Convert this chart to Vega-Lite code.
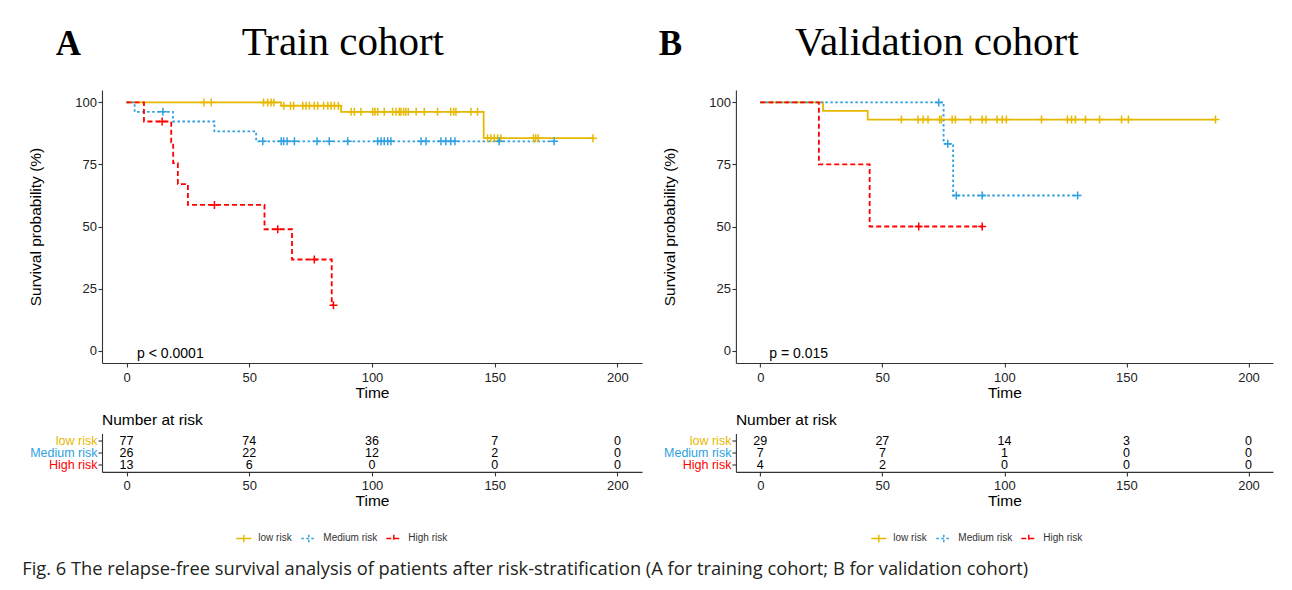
{
  "$schema": "https://vega.github.io/schema/vega-lite/v6.json",
  "background": "white",
  "autosize": {"type": "pad"},
  "padding": {"left": 22, "top": 21, "right": 5, "bottom": 5},
  "title": {
    "text": "Fig. 6 The relapse-free survival analysis of patients after risk-stratification (A for training cohort; B for validation cohort)",
    "orient": "bottom", "anchor": "start", "frame": "group", "dx": -79.7, "offset": 15,
    "font": "Open Sans", "fontSize": 18.3, "fontWeight": "normal", "color": "#231f20", "baseline": "top"
  },
  "datasets": {
    "curves": [
      {"c":"Train","g":"low risk","t":0,"S":100},{"c":"Train","g":"low risk","t":63,"S":98.7},{"c":"Train","g":"low risk","t":87.4,"S":96.2},{"c":"Train","g":"low risk","t":145.5,"S":85.6},{"c":"Train","g":"low risk","t":190,"S":85.6},
      {"c":"Train","g":"Medium risk","t":0,"S":100},{"c":"Train","g":"Medium risk","t":3.3,"S":96.2},{"c":"Train","g":"Medium risk","t":18.9,"S":92.3},{"c":"Train","g":"Medium risk","t":35.8,"S":88.3},{"c":"Train","g":"Medium risk","t":52.8,"S":84.3},{"c":"Train","g":"Medium risk","t":174.2,"S":84.3},
      {"c":"Train","g":"High risk","t":0,"S":100},{"c":"Train","g":"High risk","t":7.1,"S":92.3},{"c":"Train","g":"High risk","t":18.2,"S":83.9},{"c":"Train","g":"High risk","t":19,"S":75.5},{"c":"Train","g":"High risk","t":20.9,"S":67.1},{"c":"Train","g":"High risk","t":25,"S":58.7},{"c":"Train","g":"High risk","t":56.2,"S":48.9},{"c":"Train","g":"High risk","t":67.4,"S":36.7},{"c":"Train","g":"High risk","t":83.6,"S":18.3},{"c":"Train","g":"High risk","t":84.3,"S":18.3},
      {"c":"Valid","g":"low risk","t":0,"S":100},{"c":"Valid","g":"low risk","t":25.7,"S":96.6},{"c":"Valid","g":"low risk","t":44,"S":93.1},{"c":"Valid","g":"low risk","t":186.5,"S":93.1},
      {"c":"Valid","g":"Medium risk","t":0,"S":100},{"c":"Valid","g":"Medium risk","t":75.1,"S":83.3},{"c":"Valid","g":"Medium risk","t":79,"S":62.5},{"c":"Valid","g":"Medium risk","t":130,"S":62.5},
      {"c":"Valid","g":"High risk","t":0,"S":100},{"c":"Valid","g":"High risk","t":24,"S":75},{"c":"Valid","g":"High risk","t":44.8,"S":50},{"c":"Valid","g":"High risk","t":90.9,"S":50}
    ],
    "censors": [
      {"c":"Train","g":"low risk","t":31.5,"S":100},{"c":"Train","g":"low risk","t":34.5,"S":100},{"c":"Train","g":"low risk","t":55.8,"S":100},{"c":"Train","g":"low risk","t":57.5,"S":100},{"c":"Train","g":"low risk","t":58.9,"S":100},{"c":"Train","g":"low risk","t":60,"S":100},
      {"c":"Train","g":"low risk","t":64.1,"S":98.7},{"c":"Train","g":"low risk","t":66.8,"S":98.7},{"c":"Train","g":"low risk","t":68.1,"S":98.7},{"c":"Train","g":"low risk","t":71.8,"S":98.7},{"c":"Train","g":"low risk","t":73.1,"S":98.7},{"c":"Train","g":"low risk","t":74.5,"S":98.7},{"c":"Train","g":"low risk","t":76.5,"S":98.7},{"c":"Train","g":"low risk","t":77.9,"S":98.7},{"c":"Train","g":"low risk","t":80.3,"S":98.7},{"c":"Train","g":"low risk","t":82,"S":98.7},{"c":"Train","g":"low risk","t":83.3,"S":98.7},{"c":"Train","g":"low risk","t":84.7,"S":98.7},{"c":"Train","g":"low risk","t":86.3,"S":98.7},
      {"c":"Train","g":"low risk","t":91.5,"S":96.2},{"c":"Train","g":"low risk","t":92.8,"S":96.2},{"c":"Train","g":"low risk","t":95.5,"S":96.2},{"c":"Train","g":"low risk","t":100.3,"S":96.2},{"c":"Train","g":"low risk","t":101.2,"S":96.2},{"c":"Train","g":"low risk","t":102.3,"S":96.2},{"c":"Train","g":"low risk","t":105,"S":96.2},{"c":"Train","g":"low risk","t":108.4,"S":96.2},{"c":"Train","g":"low risk","t":109.8,"S":96.2},{"c":"Train","g":"low risk","t":111.1,"S":96.2},{"c":"Train","g":"low risk","t":111.8,"S":96.2},{"c":"Train","g":"low risk","t":112.9,"S":96.2},{"c":"Train","g":"low risk","t":113.8,"S":96.2},{"c":"Train","g":"low risk","t":114.8,"S":96.2},{"c":"Train","g":"low risk","t":118,"S":96.2},{"c":"Train","g":"low risk","t":121.3,"S":96.2},{"c":"Train","g":"low risk","t":126.7,"S":96.2},{"c":"Train","g":"low risk","t":132.1,"S":96.2},{"c":"Train","g":"low risk","t":133.3,"S":96.2},{"c":"Train","g":"low risk","t":134.2,"S":96.2},{"c":"Train","g":"low risk","t":140.3,"S":96.2},{"c":"Train","g":"low risk","t":143,"S":96.2},
      {"c":"Train","g":"low risk","t":147.1,"S":85.6},{"c":"Train","g":"low risk","t":148.4,"S":85.6},{"c":"Train","g":"low risk","t":149.8,"S":85.6},{"c":"Train","g":"low risk","t":151.2,"S":85.6},{"c":"Train","g":"low risk","t":152.5,"S":85.6},{"c":"Train","g":"low risk","t":165.8,"S":85.6},{"c":"Train","g":"low risk","t":166.7,"S":85.6},{"c":"Train","g":"low risk","t":167.7,"S":85.6},{"c":"Train","g":"low risk","t":190,"S":85.6},
      {"c":"Train","g":"Medium risk","t":14.8,"S":96.2},
      {"c":"Train","g":"Medium risk","t":55.5,"S":84.3},{"c":"Train","g":"Medium risk","t":63,"S":84.3},{"c":"Train","g":"Medium risk","t":64,"S":84.3},{"c":"Train","g":"Medium risk","t":65.4,"S":84.3},{"c":"Train","g":"Medium risk","t":68.4,"S":84.3},{"c":"Train","g":"Medium risk","t":77.6,"S":84.3},{"c":"Train","g":"Medium risk","t":82.6,"S":84.3},{"c":"Train","g":"Medium risk","t":90.1,"S":84.3},{"c":"Train","g":"Medium risk","t":102.3,"S":84.3},{"c":"Train","g":"Medium risk","t":103.7,"S":84.3},{"c":"Train","g":"Medium risk","t":105,"S":84.3},{"c":"Train","g":"Medium risk","t":106.4,"S":84.3},{"c":"Train","g":"Medium risk","t":107.7,"S":84.3},{"c":"Train","g":"Medium risk","t":120,"S":84.3},{"c":"Train","g":"Medium risk","t":122,"S":84.3},{"c":"Train","g":"Medium risk","t":128.1,"S":84.3},{"c":"Train","g":"Medium risk","t":130.1,"S":84.3},{"c":"Train","g":"Medium risk","t":132.1,"S":84.3},{"c":"Train","g":"Medium risk","t":133.8,"S":84.3},{"c":"Train","g":"Medium risk","t":151.8,"S":84.3},{"c":"Train","g":"Medium risk","t":174.2,"S":84.3},
      {"c":"Train","g":"High risk","t":14.5,"S":92.3},{"c":"Train","g":"High risk","t":35.8,"S":58.7},{"c":"Train","g":"High risk","t":61.6,"S":48.9},{"c":"Train","g":"High risk","t":76.5,"S":36.7},{"c":"Train","g":"High risk","t":84.3,"S":18.3},
      {"c":"Valid","g":"low risk","t":57.8,"S":93.1},{"c":"Valid","g":"low risk","t":64.6,"S":93.1},{"c":"Valid","g":"low risk","t":66.7,"S":93.1},{"c":"Valid","g":"low risk","t":68.7,"S":93.1},{"c":"Valid","g":"low risk","t":73.5,"S":93.1},{"c":"Valid","g":"low risk","t":74.2,"S":93.1},{"c":"Valid","g":"low risk","t":78.6,"S":93.1},{"c":"Valid","g":"low risk","t":79.9,"S":93.1},{"c":"Valid","g":"low risk","t":86.1,"S":93.1},{"c":"Valid","g":"low risk","t":90.9,"S":93.1},{"c":"Valid","g":"low risk","t":92.5,"S":93.1},{"c":"Valid","g":"low risk","t":97,"S":93.1},{"c":"Valid","g":"low risk","t":99.1,"S":93.1},{"c":"Valid","g":"low risk","t":100.8,"S":93.1},{"c":"Valid","g":"low risk","t":115.2,"S":93.1},{"c":"Valid","g":"low risk","t":125.8,"S":93.1},{"c":"Valid","g":"low risk","t":127.5,"S":93.1},{"c":"Valid","g":"low risk","t":129.1,"S":93.1},{"c":"Valid","g":"low risk","t":133.2,"S":93.1},{"c":"Valid","g":"low risk","t":139,"S":93.1},{"c":"Valid","g":"low risk","t":148,"S":93.1},{"c":"Valid","g":"low risk","t":150.8,"S":93.1},{"c":"Valid","g":"low risk","t":186.5,"S":93.1},
      {"c":"Valid","g":"Medium risk","t":73.1,"S":100},{"c":"Valid","g":"Medium risk","t":76.8,"S":83.3},{"c":"Valid","g":"Medium risk","t":80.3,"S":62.5},{"c":"Valid","g":"Medium risk","t":90.9,"S":62.5},{"c":"Valid","g":"Medium risk","t":130,"S":62.5},
      {"c":"Valid","g":"High risk","t":64.9,"S":50},{"c":"Valid","g":"High risk","t":90.9,"S":50}
    ],
    "pvals": [
      {"c":"Train","t":4.3,"S":-2.8,"label":"p < 0.0001"},
      {"c":"Valid","t":3.7,"S":-2.8,"label":"p = 0.015"}
    ],
    "risk": [
      {"c":"Train","g":"low risk","t":0,"n":77},{"c":"Train","g":"low risk","t":50,"n":74},{"c":"Train","g":"low risk","t":100,"n":36},{"c":"Train","g":"low risk","t":150,"n":7},{"c":"Train","g":"low risk","t":200,"n":0},
      {"c":"Train","g":"Medium risk","t":0,"n":26},{"c":"Train","g":"Medium risk","t":50,"n":22},{"c":"Train","g":"Medium risk","t":100,"n":12},{"c":"Train","g":"Medium risk","t":150,"n":2},{"c":"Train","g":"Medium risk","t":200,"n":0},
      {"c":"Train","g":"High risk","t":0,"n":13},{"c":"Train","g":"High risk","t":50,"n":6},{"c":"Train","g":"High risk","t":100,"n":0},{"c":"Train","g":"High risk","t":150,"n":0},{"c":"Train","g":"High risk","t":200,"n":0},
      {"c":"Valid","g":"low risk","t":0,"n":29},{"c":"Valid","g":"low risk","t":50,"n":27},{"c":"Valid","g":"low risk","t":100,"n":14},{"c":"Valid","g":"low risk","t":150,"n":3},{"c":"Valid","g":"low risk","t":200,"n":0},
      {"c":"Valid","g":"Medium risk","t":0,"n":7},{"c":"Valid","g":"Medium risk","t":50,"n":7},{"c":"Valid","g":"Medium risk","t":100,"n":1},{"c":"Valid","g":"Medium risk","t":150,"n":0},{"c":"Valid","g":"Medium risk","t":200,"n":0},
      {"c":"Valid","g":"High risk","t":0,"n":4},{"c":"Valid","g":"High risk","t":50,"n":2},{"c":"Valid","g":"High risk","t":100,"n":0},{"c":"Valid","g":"High risk","t":150,"n":0},{"c":"Valid","g":"High risk","t":200,"n":0}
    ]
  },
  "columns": 2,
  "spacing": {"row": 70.5, "column": 93.9},
  "bounds": "flush",
  "concat": [
    {
      "width": 540, "height": 273,
      "layer": [
        {
          "data": {"name": "curves"},
          "transform": [{"filter": "datum.c == 'Train'"}],
          "mark": {"type": "line", "interpolate": "step-after", "strokeWidth": 1.8},
          "encoding": {
            "x": {"field": "t", "type": "quantitative", "scale": {"domain": [-10, 210], "nice": false, "zero": false}, "axis": {"values": [0, 50, 100, 150, 200], "title": "Time", "titlePadding": 1, "labelFontSize": 13, "labelColor": "#222222", "labelPadding": 4}},
            "y": {"field": "S", "type": "quantitative", "scale": {"domain": [-5, 105], "nice": false, "zero": false}, "axis": {"values": [0, 25, 50, 75, 100], "title": "Survival probability (%)", "titlePadding": 31, "labelFontSize": 13, "labelColor": "#222222", "labelPadding": 1.5}},
            "color": {"field": "g", "type": "nominal", "scale": {"domain": ["low risk", "Medium risk", "High risk"], "range": ["#E7B800", "#2E9FDF", "#FF0000"]},
              "legend": {"orient": "none", "legendX": 133.3, "legendY": 439.5, "direction": "horizontal", "columns": 3, "title": null, "symbolType": "M-1,0H1M0,-0.5V0.5", "symbolSize": 225, "symbolStrokeWidth": 1.5, "labelFontSize": 10, "labelColor": "#333333", "labelFont": "Liberation Sans", "labelOffset": 6, "columnPadding": 6, "padding": 0}},
            "strokeDash": {"field": "g", "type": "nominal", "scale": {"domain": ["low risk", "Medium risk", "High risk"], "range": [[1, 0], [2.5, 2.5], [5, 3]]},
              "legend": {"orient": "none", "legendX": 133.3, "legendY": 439.5, "direction": "horizontal", "columns": 3, "title": null, "symbolType": "M-1,0H1M0,-0.5V0.5", "symbolSize": 225, "symbolStrokeWidth": 1.5, "labelFontSize": 10, "labelColor": "#333333", "labelFont": "Liberation Sans", "labelOffset": 6, "columnPadding": 6, "padding": 0}}
          }
        },
        {
          "data": {"name": "censors"},
          "transform": [{"filter": "datum.c == 'Train'"}],
          "mark": {"type": "point", "shape": "M-1,0H1M0,-1V1", "size": 64, "strokeWidth": 1.5, "filled": false, "opacity": 1},
          "encoding": {
            "x": {"field": "t", "type": "quantitative", "axis": {"orient": "top", "domain": false, "ticks": false, "labels": false, "grid": false, "title": "A", "titleFont": "Liberation Serif", "titleFontSize": 35, "titleFontWeight": "bold", "titleColor": "#000000", "titleAlign": "left", "titleAnchor": "start", "titleBaseline": "alphabetic", "titleAngle": 0, "titleX": -46.7, "titleY": -36}},
            "y": {"field": "S", "type": "quantitative", "axis": {"values": [0, 25, 50, 75, 100], "title": "Survival probability (%)", "titlePadding": 31, "labelFontSize": 13, "labelColor": "#222222", "labelPadding": 1.5}},
            "color": {"field": "g", "type": "nominal", "legend": null}
          }
        },
        {
          "data": {"name": "pvals"},
          "transform": [{"filter": "datum.c == 'Train'"}],
          "mark": {"type": "text", "align": "left", "baseline": "alphabetic", "fontSize": 14, "color": "#000000", "font": "Liberation Sans"},
          "encoding": {
            "x": {"field": "t", "type": "quantitative", "axis": {"orient": "top", "domain": false, "ticks": false, "labels": false, "grid": false, "title": "Train cohort", "titleFont": "Liberation Serif", "titleFontSize": 41, "titleFontWeight": "normal", "titleColor": "#000000", "titleAlign": "center", "titleAnchor": "start", "titleBaseline": "alphabetic", "titleAngle": 0, "titleX": 240.3, "titleY": -36}},
            "y": {"field": "S", "type": "quantitative", "axis": {"values": [0, 25, 50, 75, 100], "title": "Survival probability (%)", "titlePadding": 31, "labelFontSize": 13, "labelColor": "#222222", "labelPadding": 1.5}},
            "text": {"field": "label"}
          }
        }
      ],
      "resolve": {"axis": {"x": "independent"}}
    },
    {
      "width": 537, "height": 273,
      "layer": [
        {
          "data": {"name": "curves"},
          "transform": [{"filter": "datum.c == 'Valid'"}],
          "mark": {"type": "line", "interpolate": "step-after", "strokeWidth": 1.8},
          "encoding": {
            "x": {"field": "t", "type": "quantitative", "scale": {"domain": [-10, 210], "nice": false, "zero": false}, "axis": {"values": [0, 50, 100, 150, 200], "title": "Time", "titlePadding": 1, "labelFontSize": 13, "labelColor": "#222222", "labelPadding": 4}},
            "y": {"field": "S", "type": "quantitative", "scale": {"domain": [-5, 105], "nice": false, "zero": false}, "axis": {"values": [0, 25, 50, 75, 100], "title": "Survival probability (%)", "titlePadding": 31, "labelFontSize": 13, "labelColor": "#222222", "labelPadding": 1.5}},
            "color": {"field": "g", "type": "nominal", "scale": {"domain": ["low risk", "Medium risk", "High risk"], "range": ["#E7B800", "#2E9FDF", "#FF0000"]},
              "legend": {"orient": "none", "legendX": 134.4, "legendY": 439.5, "direction": "horizontal", "columns": 3, "title": null, "symbolType": "M-1,0H1M0,-0.5V0.5", "symbolSize": 225, "symbolStrokeWidth": 1.5, "labelFontSize": 10, "labelColor": "#333333", "labelFont": "Liberation Sans", "labelOffset": 6, "columnPadding": 6, "padding": 0}},
            "strokeDash": {"field": "g", "type": "nominal", "scale": {"domain": ["low risk", "Medium risk", "High risk"], "range": [[1, 0], [2.5, 2.5], [5, 3]]},
              "legend": {"orient": "none", "legendX": 134.4, "legendY": 439.5, "direction": "horizontal", "columns": 3, "title": null, "symbolType": "M-1,0H1M0,-0.5V0.5", "symbolSize": 225, "symbolStrokeWidth": 1.5, "labelFontSize": 10, "labelColor": "#333333", "labelFont": "Liberation Sans", "labelOffset": 6, "columnPadding": 6, "padding": 0}}
          }
        },
        {
          "data": {"name": "censors"},
          "transform": [{"filter": "datum.c == 'Valid'"}],
          "mark": {"type": "point", "shape": "M-1,0H1M0,-1V1", "size": 64, "strokeWidth": 1.5, "filled": false, "opacity": 1},
          "encoding": {
            "x": {"field": "t", "type": "quantitative", "axis": {"orient": "top", "domain": false, "ticks": false, "labels": false, "grid": false, "title": "B", "titleFont": "Liberation Serif", "titleFontSize": 35, "titleFontWeight": "bold", "titleColor": "#000000", "titleAlign": "left", "titleAnchor": "start", "titleBaseline": "alphabetic", "titleAngle": 0, "titleX": -77.6, "titleY": -36}},
            "y": {"field": "S", "type": "quantitative", "axis": {"values": [0, 25, 50, 75, 100], "title": "Survival probability (%)", "titlePadding": 31, "labelFontSize": 13, "labelColor": "#222222", "labelPadding": 1.5}},
            "color": {"field": "g", "type": "nominal", "legend": null}
          }
        },
        {
          "data": {"name": "pvals"},
          "transform": [{"filter": "datum.c == 'Valid'"}],
          "mark": {"type": "text", "align": "left", "baseline": "alphabetic", "fontSize": 14, "color": "#000000", "font": "Liberation Sans"},
          "encoding": {
            "x": {"field": "t", "type": "quantitative", "axis": {"orient": "top", "domain": false, "ticks": false, "labels": false, "grid": false, "title": "Validation cohort", "titleFont": "Liberation Serif", "titleFontSize": 41, "titleFontWeight": "normal", "titleColor": "#000000", "titleAlign": "center", "titleAnchor": "start", "titleBaseline": "alphabetic", "titleAngle": 0, "titleX": 200.4, "titleY": -36}},
            "y": {"field": "S", "type": "quantitative", "axis": {"values": [0, 25, 50, 75, 100], "title": "Survival probability (%)", "titlePadding": 31, "labelFontSize": 13, "labelColor": "#222222", "labelPadding": 1.5}},
            "text": {"field": "label"}
          }
        }
      ],
      "resolve": {"axis": {"x": "independent"}}
    },
    {
      "width": 540, "height": 38.4,
      "data": {"name": "risk"},
      "transform": [{"filter": "datum.c == 'Train'"}],
      "title": {"text": "Number at risk", "anchor": "start", "frame": "group", "fontSize": 15.5, "fontWeight": "normal", "font": "Liberation Sans", "color": "#000000", "offset": -10, "baseline": "bottom"},
      "mark": {"type": "text", "fontSize": 12.5, "color": "#000000", "baseline": "middle", "align": "center", "font": "Liberation Sans"},
      "encoding": {
        "x": {"field": "t", "type": "quantitative", "scale": {"domain": [-10, 210], "nice": false, "zero": false}, "axis": {"values": [0, 50, 100, 150, 200], "title": "Time", "titlePadding": 1, "labelFontSize": 13, "labelColor": "#222222", "labelPadding": 4}},
        "y": {"field": "g", "type": "nominal", "sort": ["low risk", "Medium risk", "High risk"], "scale": {"type": "point", "padding": 0.6},
          "axis": {"title": null, "labelFontSize": 12.5, "labelPadding": 1, "labelColor": {"condition": [{"test": "datum.value == 'low risk'", "value": "#E7B800"}, {"test": "datum.value == 'Medium risk'", "value": "#2E9FDF"}], "value": "#FF0000"}}},
        "text": {"field": "n", "type": "quantitative"}
      }
    },
    {
      "width": 537, "height": 38.4,
      "data": {"name": "risk"},
      "transform": [{"filter": "datum.c == 'Valid'"}],
      "title": {"text": "Number at risk", "anchor": "start", "frame": "group", "fontSize": 15.5, "fontWeight": "normal", "font": "Liberation Sans", "color": "#000000", "offset": -10, "baseline": "bottom"},
      "mark": {"type": "text", "fontSize": 12.5, "color": "#000000", "baseline": "middle", "align": "center", "font": "Liberation Sans"},
      "encoding": {
        "x": {"field": "t", "type": "quantitative", "scale": {"domain": [-10, 210], "nice": false, "zero": false}, "axis": {"values": [0, 50, 100, 150, 200], "title": "Time", "titlePadding": 1, "labelFontSize": 13, "labelColor": "#222222", "labelPadding": 4}},
        "y": {"field": "g", "type": "nominal", "sort": ["low risk", "Medium risk", "High risk"], "scale": {"type": "point", "padding": 0.6},
          "axis": {"title": null, "labelFontSize": 12.5, "labelPadding": 1, "labelColor": {"condition": [{"test": "datum.value == 'low risk'", "value": "#E7B800"}, {"test": "datum.value == 'Medium risk'", "value": "#2E9FDF"}], "value": "#FF0000"}}},
        "text": {"field": "n", "type": "quantitative"}
      }
    }
  ],
  "resolve": {
    "scale": {"x": "independent", "y": "independent", "color": "independent", "strokeDash": "independent"},
    "axis": {"x": "independent", "y": "independent"},
    "legend": {"color": "independent", "strokeDash": "independent"}
  },
  "config": {
    "view": {"stroke": null},
    "font": "Liberation Sans",
    "axis": {"domainColor": "#333333", "domainWidth": 1.1, "tickColor": "#333333", "tickWidth": 1.1, "tickSize": 4, "labelColor": "#222222", "labelFontSize": 13, "labelFont": "Liberation Sans", "labelPadding": 2, "titleFont": "Liberation Sans", "titleFontSize": 15.5, "titleFontWeight": "normal", "titleColor": "#000000", "grid": false, "labelFlush": false, "labelOverlap": false}
  }
}
